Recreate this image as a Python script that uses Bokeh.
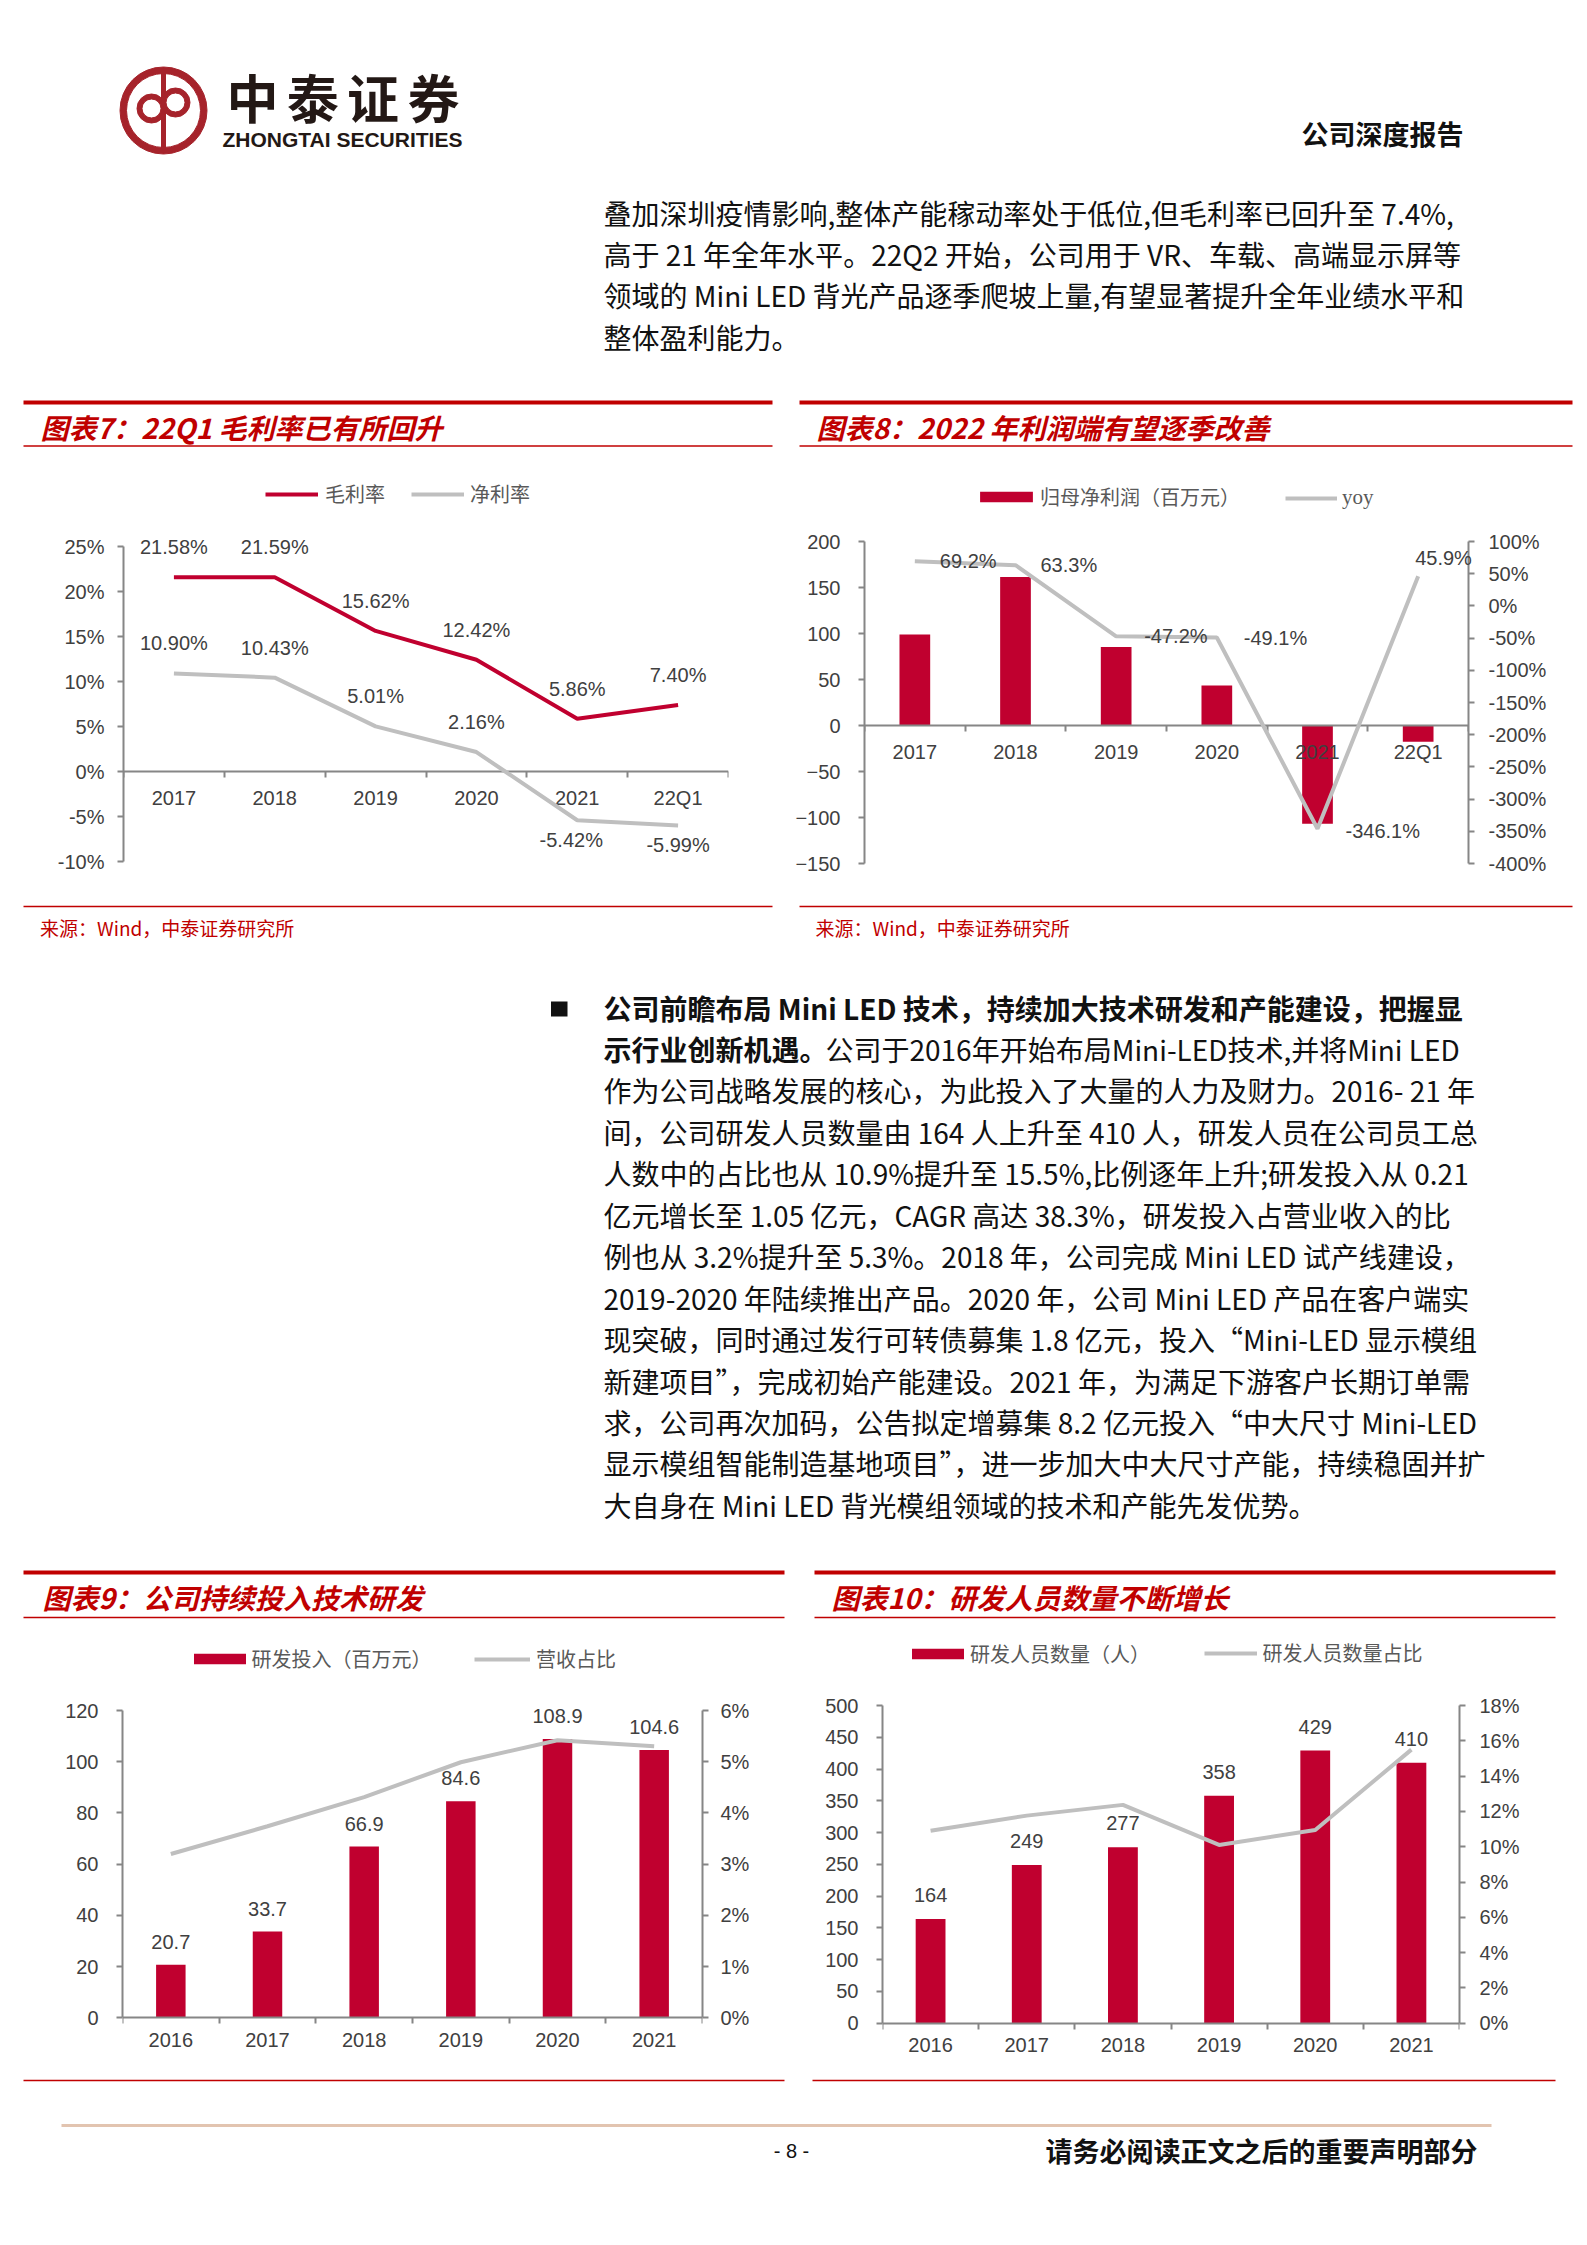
from bokeh.plotting import figure
from bokeh.models import (Range1d, FactorRange, LinearAxis, CategoricalAxis, FixedTicker,
                          PrintfTickFormatter, CustomJSTickFormatter, Legend, LegendItem,
                          Spacer)
from bokeh.layouts import column, row
from bokeh.embed import file_html
from bokeh.resources import INLINE
from bokeh.core.properties import value

# ---------------- data ----------------
cats_q = ["2017", "2018", "2019", "2020", "2021", "22Q1"]
gross_margin = [21.58, 21.59, 15.62, 12.42, 5.86, 7.40]
net_margin = [10.90, 10.43, 5.01, 2.16, -5.42, -5.99]

net_profit = [98.9, 161.5, 85.3, 43.4, -106.8, -17.7]
profit_yoy = [69.2, 63.3, -47.2, -49.1, -346.1, 45.9]

cats_y = ["2016", "2017", "2018", "2019", "2020", "2021"]
rd_spend = [20.7, 33.7, 66.9, 84.6, 108.9, 104.6]
rd_ratio = [3.2, 3.74, 4.31, 4.99, 5.42, 5.3]

rd_staff = [164, 249, 277, 358, 429, 410]
rd_staff_ratio = [10.9, 11.76, 12.37, 10.1, 10.95, 15.5]

ticks7 = list(range(-10, 26, 5))
ticks8_left = list(range(-150, 201, 50))
ticks8_right = list(range(-400, 101, 50))
ticks9_left = list(range(0, 121, 20))
ticks9_right = list(range(0, 7, 1))
ticks10_left = list(range(0, 501, 50))
ticks10_right = list(range(0, 19, 2))

# ---------------- styles ----------------
RED = "#C0002F"
GRAY = "#BFBFBF"
AXIS = "#868686"
TICK_TXT = "#404040"
TITLE_RED = "#C00000"
LEG_TXT = "#595959"
LOGO = "#A6232B"
LATIN = "Liberation Sans"
CJK = "Noto Sans CJK SC"
CHART_FS = "20px"


def deco(w, h):
    p = figure(width=w, height=h, x_range=Range1d(0, w), y_range=Range1d(h, 0),
               x_axis_location=None, y_axis_location=None, toolbar_location=None,
               output_backend="svg", min_border=0, frame_align=False)
    p.grid.visible = False
    p.outline_line_color = None
    return p


def txt(p, x, y, s, size, color="#111111", font=CJK, style="normal", align="left"):
    p.text(x=[x], y=[y], text=[s], text_font=value(font), text_font_size=size,
           text_color=color, text_font_style=style, text_align=align, text_baseline="middle")


def hline(p, x0, x1, y, w, color):
    p.segment(x0=[x0], y0=[y], x1=[x1], y1=[y], line_width=w, line_color=color)


def style_axis(ax, standoff=12):
    ax.axis_line_color = AXIS
    ax.axis_line_width = 2
    ax.major_tick_line_color = AXIS
    ax.major_tick_line_width = 2
    ax.major_tick_in = 0
    ax.major_tick_out = 6
    ax.minor_tick_line_color = None
    ax.major_label_text_font = LATIN
    ax.major_label_text_font_size = CHART_FS
    ax.major_label_text_color = TICK_TXT
    ax.major_label_standoff = standoff


def add_cat_axes(p, n):
    xa = CategoricalAxis(fixed_location=0)
    style_axis(xa, 15)
    xa.major_tick_line_color = None
    xa.major_tick_out = 0
    p.add_layout(xa, "below")
    # tick marks on category boundaries (synthetic coordinates 0..n)
    xb = LinearAxis(ticker=FixedTicker(ticks=list(range(n + 1))),
                    formatter=CustomJSTickFormatter(code="return ''"), fixed_location=0)
    style_axis(xb)
    xb.axis_line_color = None
    p.add_layout(xb, "below")


def ext_range(lo, hi, ax_top, ax_bot, fr_top, fr_bot):
    k = (hi - lo) / (ax_bot - ax_top)
    return Range1d(lo - (fr_bot - ax_bot) * k, hi + (ax_top - fr_top) * k)


def make_chart(w, h, cats, lo, hi, ticks, ml, mr, ax_top, ax_bot, fr_top, fr_bot,
               right=None, lso=18, rso=14, pct_left=False):
    p = figure(width=w, height=h, x_range=FactorRange(factors=cats),
               y_range=ext_range(lo, hi, ax_top, ax_bot, fr_top, fr_bot),
               x_axis_location=None, y_axis_location=None, toolbar_location=None,
               output_backend="svg", min_border_left=ml, min_border_right=mr,
               min_border_top=fr_top, min_border_bottom=h - fr_bot, frame_align=False)
    p.grid.visible = False
    p.outline_line_color = None
    ya = LinearAxis(ticker=FixedTicker(ticks=ticks), bounds=(lo, hi))
    if pct_left:
        ya.formatter = PrintfTickFormatter(format="%d%%")
    style_axis(ya, lso)
    p.add_layout(ya, "left")
    if right is not None:
        rlo, rhi, rticks = right
        p.extra_y_ranges = {"r": ext_range(rlo, rhi, ax_top, ax_bot, fr_top, fr_bot)}
        yb = LinearAxis(y_range_name="r", ticker=FixedTicker(ticks=rticks), bounds=(rlo, rhi),
                        formatter=PrintfTickFormatter(format="%d%%"))
        style_axis(yb, rso)
        p.add_layout(yb, "right")
    add_cat_axes(p, len(cats))
    return p


def add_legend(p, label, rend, gx, cy, ml, fr_bot, gw, gh, standoff, font=CJK, size="20px"):
    loc = (gx - 3 - ml, fr_bot - (cy + gh / 2) - 6)
    leg = Legend(items=[LegendItem(label=label, renderers=[rend])], location=loc,
                 orientation="horizontal", glyph_width=gw, glyph_height=gh,
                 label_height=gh, label_standoff=standoff, padding=0, margin=0, spacing=0,
                 border_line_color=None, background_fill_alpha=0,
                 label_text_font=font, label_text_font_size=size, label_text_color=LEG_TXT)
    p.add_layout(leg, "center")


def label_style():
    return dict(text_font=value(LATIN), text_font_size=CHART_FS, text_color=TICK_TXT,
                text_baseline="middle", level="annotation")


# ---------------- header ----------------
W = 1571
hdr = deco(W, 385)
hdr.annulus(x=[155], y=[102], inner_radius=37, outer_radius=43.5, color=LOGO)
hdr.segment(x0=[155], y0=[60], x1=[155], y1=[144], line_width=5, line_color=LOGO)
hdr.annulus(x=[143, 167], y=[100, 94], inner_radius=9.5, outer_radius=14.5, color=LOGO)
for i, ch in enumerate("中泰证券"):
    txt(hdr, 244 + 60.3 * i, 88, ch, "52px", color="#231815", style="bold", align="center")
txt(hdr, 214, 131, "ZHONGTAI SECURITIES", "21px", color="#231815", font=LATIN, style="bold")
txt(hdr, 1455, 125, "公司深度报告", "27px", color="#111111", style="bold", align="right")
para1 = ["叠加深圳疫情影响,整体产能稼动率处于低位,但毛利率已回升至 7.4%,",
         "高于 21 年全年水平。22Q2 开始，公司用于 VR、车载、高端显示屏等",
         "领域的 Mini LED 背光产品逐季爬坡上量,有望显著提升全年业绩水平和",
         "整体盈利能力。"]
for i, s in enumerate(para1):
    txt(hdr, 595, 204 + 41.4 * i, s, "28px")

# ---------------- row B: charts 7 & 8 ----------------
t7 = deco(777, 65)
hline(t7, 15, 764, 9, 4, TITLE_RED)
txt(t7, 32, 33, "图表7：22Q1 毛利率已有所回升", "28px", color=TITLE_RED, style="bold italic")
hline(t7, 15, 764, 52.5, 1.5, TITLE_RED)

c7 = make_chart(777, 437, cats_q, -10, 25, ticks7, 115, 57, 88, 403, 12, 403, lso=13,
                pct_left=True)
r_gm = c7.line(x=cats_q, y=gross_margin, line_color=RED, line_width=4, level="annotation")
r_nm = c7.line(x=cats_q, y=net_margin, line_color=GRAY, line_width=4, level="annotation")
nm_yoff = [-30, -30, -30, -30, 20, 20]
nm_xoff = [0, 0, 0, 0, -6, 0]
c7.text(x=cats_q, y=gross_margin, text=[f"{v:.2f}%" for v in gross_margin], y_offset=-30,
        text_align="center", **label_style())
c7.text(x=cats_q, y=net_margin, text=[f"{v:.2f}%" for v in net_margin], y_offset=nm_yoff,
        x_offset=nm_xoff, text_align="center", **label_style())
add_legend(c7, "毛利率", r_gm, 268 - 8, 38, 115, 403, 53, 12, 7)
add_legend(c7, "净利率", r_nm, 414 - 8, 38, 115, 403, 53, 12, 6)

s7 = deco(777, 55)
hline(s7, 15, 764, 11, 1.5, TITLE_RED)
txt(s7, 31.5, 32, "来源：Wind，中泰证券研究所", "19px", color=TITLE_RED)

t8 = deco(794, 65)
hline(t8, 14, 787, 9, 4, TITLE_RED)
txt(t8, 31, 33, "图表8：2022 年利润端有望逐季改善", "28px", color=TITLE_RED, style="bold italic")
hline(t8, 14, 787, 52.5, 1.5, TITLE_RED)

c8 = make_chart(794, 437, cats_q, -150, 200, ticks8_left, 79, 111, 83, 405, 12, 405,
                right=(-400, 100, ticks8_right), lso=18, rso=14)
r_np = c8.vbar(x=cats_q, top=net_profit, width=0.305, fill_color=RED, line_color=None)
r_yoy = c8.line(x=cats_q, y=profit_yoy, y_range_name="r", line_color=GRAY, line_width=4,
                level="annotation")
yoy_xoff = [25, 25, 28, 27, 28, -3]
yoy_yoff = [0, 0, 0, 0, 2, -18]
c8.text(x=cats_q, y=profit_yoy, text=[f"{v:.1f}%" for v in profit_yoy], y_range_name="r",
        x_offset=yoy_xoff, y_offset=yoy_yoff, text_align="left", **label_style())
add_legend(c8, "归母净利润（百万元）", r_np, 976 - 785, 40, 79, 405, 66, 13, 1)
add_legend(c8, "yoy", r_yoy, 1288 - 785, 40, 79, 405, 52, 12, 5, font="Liberation Serif", size="21px")

s8 = deco(794, 55)
hline(s8, 14, 787, 11, 1.5, TITLE_RED)
txt(s8, 30, 32, "来源：Wind，中泰证券研究所", "19px", color=TITLE_RED)

# ---------------- row C: body text ----------------
body = deco(W, 610)
body.quad(left=[542.5], right=[559], top=[51], bottom=[66], fill_color="#111111", line_color=None)
y0, dy = 57, 41.45
txt(body, 595, y0, "公司前瞻布局 Mini LED 技术，持续加大技术研发和产能建设，把握显", "28px", style="bold")
txt(body, 595, y0 + dy, "示行业创新机遇。", "28px", style="bold")
txt(body, 817, y0 + dy, "公司于2016年开始布局Mini-LED技术,并将Mini LED", "28px")
para2 = ["作为公司战略发展的核心，为此投入了大量的人力及财力。2016- 21 年",
         "间，公司研发人员数量由 164 人上升至 410 人，研发人员在公司员工总",
         "人数中的占比也从 10.9%提升至 15.5%,比例逐年上升;研发投入从 0.21",
         "亿元增长至 1.05 亿元，CAGR 高达 38.3%，研发投入占营业收入的比",
         "例也从 3.2%提升至 5.3%。2018 年，公司完成 Mini LED 试产线建设，",
         "2019-2020 年陆续推出产品。2020 年，公司 Mini LED 产品在客户端实",
         "现突破，同时通过发行可转债募集 1.8 亿元，投入“Mini-LED 显示模组",
         "新建项目”，完成初始产能建设。2021 年，为满足下游客户长期订单需",
         "求，公司再次加码，公告拟定增募集 8.2 亿元投入“中大尺寸 Mini-LED",
         "显示模组智能制造基地项目”，进一步加大中大尺寸产能，持续稳固并扩",
         "大自身在 Mini LED 背光模组领域的技术和产能先发优势。"]
for i, s in enumerate(para2):
    txt(body, 595, y0 + dy * (i + 2), s, "28px")

# ---------------- row D: charts 9 & 10 ----------------
t9 = deco(790, 65)
hline(t9, 15, 776, 12, 4, TITLE_RED)
txt(t9, 34, 36, "图表9：公司持续投入技术研发", "28px", color=TITLE_RED, style="bold italic")
hline(t9, 15, 776, 57, 1.5, TITLE_RED)

c9 = make_chart(790, 440, cats_y, 0, 120, ticks9_left, 114, 96, 85, 392.4, 10, 437,
                right=(0, 6, ticks9_right), lso=18, rso=12)
r_rd = c9.vbar(x=cats_y, top=rd_spend, width=0.305, fill_color=RED, line_color=None)
r_rr = c9.line(x=cats_y, y=rd_ratio, y_range_name="r", line_color=GRAY, line_width=4,
               level="annotation")
c9.text(x=cats_y, y=rd_spend, text=[f"{v:.1f}" for v in rd_spend], y_offset=-23,
        text_align="center", **label_style())
add_legend(c9, "研发投入（百万元）", r_rd, 189.5 - 8, 35, 114, 437, 65, 13, 0)
add_legend(c9, "营收占比", r_rr, 477 - 8, 36, 114, 437, 56, 12, 6)

b9 = deco(790, 30)
hline(b9, 15, 776, 15, 1.5, TITLE_RED)

t10 = deco(781, 65)
hline(t10, 16, 757, 12, 4, TITLE_RED)
txt(t10, 33, 36, "图表10：研发人员数量不断增长", "28px", color=TITLE_RED, style="bold italic")
hline(t10, 16, 757, 57, 1.5, TITLE_RED)

c10 = make_chart(781, 440, cats_y, 0, 500, ticks10_left, 84, 120, 80, 397.7, 10, 437,
                 right=(0, 18, ticks10_right), lso=18, rso=14)
r_st = c10.vbar(x=cats_y, top=rd_staff, width=0.31, fill_color=RED, line_color=None)
r_sr = c10.line(x=cats_y, y=rd_staff_ratio, y_range_name="r", line_color=GRAY, line_width=4,
                level="annotation")
c10.text(x=cats_y, y=rd_staff, text=[str(v) for v in rd_staff], y_offset=-24,
         text_align="center", **label_style())
add_legend(c10, "研发人员数量（人）", r_st, 908 - 798, 30, 84, 437, 65, 13, 0)
add_legend(c10, "研发人员数量占比", r_sr, 1206.5 - 798, 30, 84, 437, 53, 12, 6)

b10 = deco(781, 30)
hline(b10, 14, 757, 15, 1.5, TITLE_RED)

# ---------------- footer ----------------
foot = deco(W, 142)
hline(foot, 53, 1483, 30, 3, "#E2C4B0")
txt(foot, 783, 55, "- 8 -", "20px", font=LATIN, align="center")
txt(foot, 1469, 55, "请务必阅读正文之后的重要声明部分", "27px", style="bold", align="right")

page = column(
    hdr,
    row(column(t7, c7, s7, spacing=0), column(t8, c8, s8, spacing=0), spacing=0),
    body,
    row(column(t9, c9, b9, spacing=0), column(t10, c10, b10, spacing=0), spacing=0),
    foot,
    spacing=0,
)
layout = column(Spacer(width=8, height=8), row(Spacer(width=8, height=8), page, spacing=0),
                spacing=0)

open("out.html", "w").write(file_html(layout, INLINE))
